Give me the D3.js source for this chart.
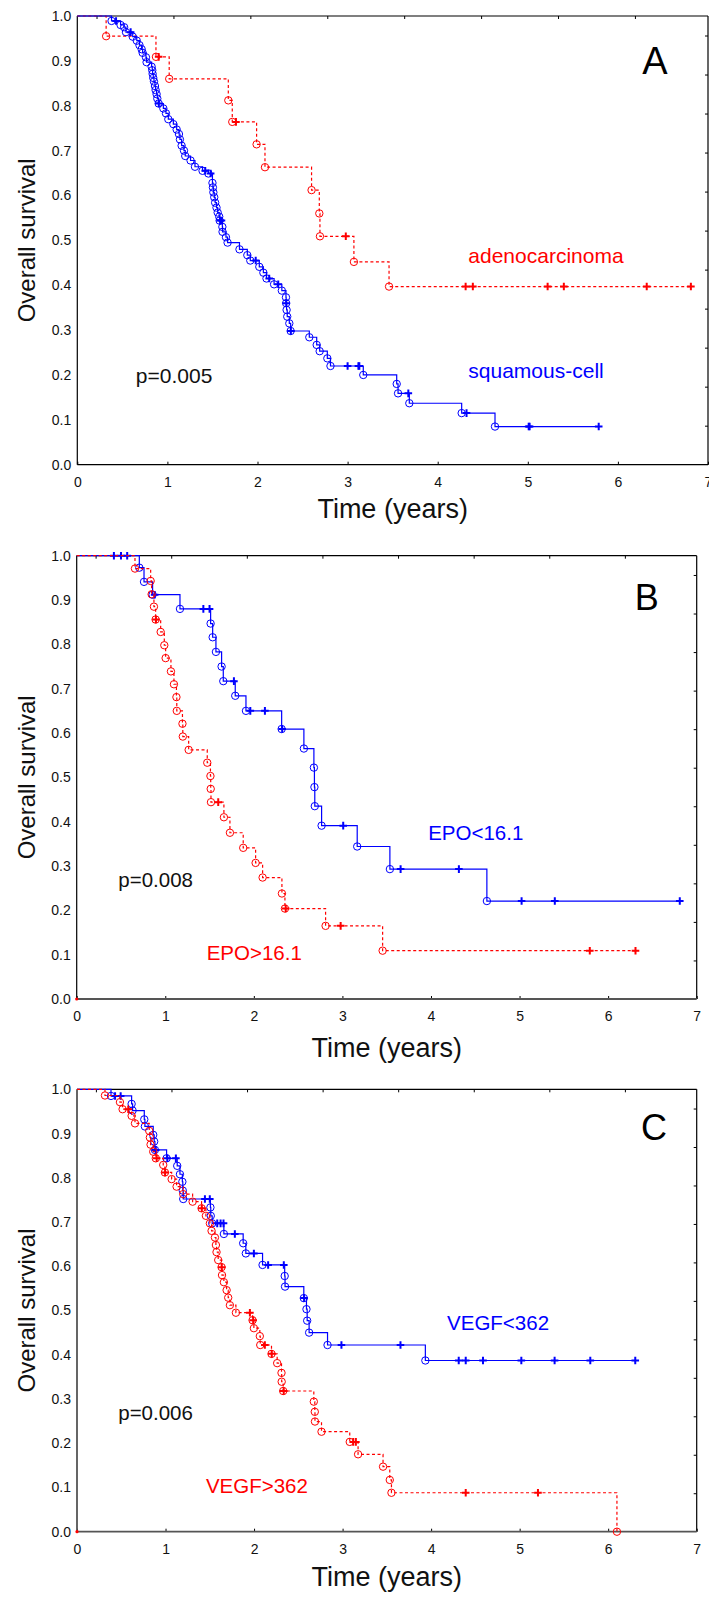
<!DOCTYPE html>
<html>
<head>
<meta charset="utf-8">
<title>Overall survival</title>
<script src="https://cdn.jsdelivr.net/npm/d3@7"></script>
<style>
    body {
        margin: 0;
        background: #fff;
    }
    svg text {
        font-family: 'Liberation Sans', Arial, Helvetica, sans-serif;
    }
</style>
</head>
<body>
<svg id="chart" width="709" height="1597"></svg>

<script>
// ticks
var xTicks = [0, 1, 2, 3, 4, 5, 6, 7];
var yTicks = [0, 0.1, 0.2, 0.3, 0.4, 0.5, 0.6, 0.7, 0.8, 0.9, 1.0];

// A: histology. event times (years) and survival after each event, censored times
var adenoT = [0.32, 0.873, 1.02, 1.676, 1.72, 1.99, 2.083, 2.60, 2.686, 2.693, 3.07, 3.46];
var adenoS = [0.955, 0.909, 0.860, 0.812, 0.764, 0.714, 0.663, 0.612, 0.560, 0.509, 0.452, 0.397];
var adenoCens = [0.903, 1.761, 2.98, 4.31, 4.39, 5.22, 5.40, 6.32, 6.81];

var squamT = [0.38, 0.48, 0.52, 0.54, 0.615, 0.66, 0.69, 0.714, 0.725, 0.762, 0.769, 0.825, 0.832, 0.836, 0.843,
    0.851, 0.862, 0.869, 0.880, 0.888, 0.903, 0.955, 0.984, 1.01, 1.066, 1.103, 1.128, 1.139, 1.158, 1.184,
    1.198, 1.257, 1.306, 1.39, 1.455, 1.50, 1.505, 1.51, 1.52, 1.53, 1.545, 1.558, 1.575, 1.58, 1.61,
    1.612, 1.65, 1.668, 1.80, 1.887, 1.92, 2.02, 2.065, 2.10, 2.184, 2.27, 2.316, 2.318, 2.323, 2.33,
    2.353, 2.368, 2.575, 2.657, 2.69, 2.775, 2.81, 3.174, 3.545, 3.56, 3.685, 4.266, 4.636];
var squamS = [0.989, 0.980, 0.975, 0.964, 0.954, 0.945, 0.935, 0.926, 0.918, 0.908, 0.897, 0.887, 0.879, 0.871, 0.862,
    0.854, 0.844, 0.835, 0.826, 0.816, 0.805, 0.794, 0.783, 0.770, 0.759, 0.747, 0.737, 0.725, 0.711, 0.700,
    0.688, 0.678, 0.664, 0.655, 0.649, 0.628, 0.618, 0.607, 0.596, 0.584, 0.573, 0.562, 0.553, 0.544, 0.530,
    0.519, 0.507, 0.495, 0.480, 0.467, 0.455, 0.441, 0.428, 0.415, 0.402, 0.388, 0.373, 0.360, 0.345, 0.330,
    0.315, 0.298, 0.284, 0.267, 0.253, 0.237, 0.220, 0.200, 0.180, 0.159, 0.137, 0.115, 0.085];
var squamCens = [0.43, 0.592, 0.905, 1.42, 1.48, 1.585, 1.60, 1.98, 2.13, 2.23, 2.319, 2.37, 3.0, 3.12, 3.13,
    3.674, 4.32, 5.01, 5.02, 5.787];

// B: EPO
var epoLowT = [0.707, 0.76, 0.857, 1.166, 1.512, 1.535, 1.572, 1.636, 1.655, 1.79, 1.911, 2.314, 2.565, 2.678,
    2.684, 2.688, 2.765, 3.167, 3.536, 4.631];
var epoLowS = [0.973, 0.941, 0.912, 0.880, 0.847, 0.816, 0.783, 0.750, 0.717, 0.684, 0.650, 0.609, 0.565, 0.522,
    0.478, 0.435, 0.391, 0.344, 0.293, 0.221];
var epoLowCens = [0.42, 0.50, 0.57, 0.88, 1.43, 1.50, 1.775, 1.96, 2.125, 2.32, 3.009, 3.657, 4.315, 5.023, 5.398, 6.809];

var epoHighT = [0.658, 0.835, 0.846, 0.872, 0.891, 0.948, 0.989, 1.004, 1.064, 1.098, 1.126, 1.13, 1.194, 1.198,
    1.264, 1.474, 1.510, 1.513, 1.516, 1.662, 1.730, 1.88, 2.02, 2.099, 2.317, 2.351, 2.81, 3.454];
var epoHighS = [0.971, 0.943, 0.913, 0.885, 0.856, 0.828, 0.798, 0.769, 0.739, 0.710, 0.681, 0.650, 0.621, 0.592,
    0.562, 0.533, 0.503, 0.474, 0.444, 0.410, 0.375, 0.341, 0.307, 0.274, 0.238, 0.204, 0.165, 0.109];
var epoHighCens = [0.895, 1.598, 2.36, 2.98, 5.793, 6.309];

// C: VEGF
var vegfLowT = [0.384, 0.617, 0.628, 0.76, 0.767, 0.861, 0.872, 0.88, 1.012, 1.132, 1.163, 1.19, 1.195, 1.2, 1.507,
    1.511, 1.527, 1.659, 1.877, 1.907, 2.096, 2.346, 2.35, 2.562, 2.592, 2.6, 2.622, 2.83, 3.935];
var vegfLowS = [0.985, 0.967, 0.952, 0.932, 0.916, 0.897, 0.882, 0.863, 0.844, 0.827, 0.808, 0.791, 0.771, 0.752, 0.733,
    0.714, 0.697, 0.673, 0.652, 0.629, 0.603, 0.578, 0.554, 0.528, 0.503, 0.477, 0.450, 0.422, 0.387];
var vegfLowCens = [0.43, 0.493, 0.89, 1.02, 1.117, 1.445, 1.50, 1.584, 1.622, 1.655, 1.783, 1.998, 2.159, 2.336,
    2.565, 2.987, 3.654, 4.312, 4.391, 4.586, 5.019, 5.395, 5.798, 6.306];

var vegfHighT = [0.316, 0.485, 0.515, 0.617, 0.655, 0.816, 0.823, 0.831, 0.861, 0.89, 0.974, 0.993, 1.069, 1.125, 1.2,
    1.306, 1.407, 1.456, 1.501, 1.52, 1.558, 1.569, 1.576, 1.595, 1.633, 1.638, 1.659, 1.69, 1.708, 1.727,
    1.795, 1.983, 1.998, 2.065, 2.07, 2.197, 2.261, 2.31, 2.312, 2.329, 2.675, 2.686, 2.688, 2.762, 3.081,
    3.175, 3.457, 3.533, 3.552, 6.099];
var vegfHighS = [0.986, 0.971, 0.955, 0.940, 0.923, 0.906, 0.891, 0.875, 0.859, 0.844, 0.829, 0.812, 0.797, 0.780, 0.763,
    0.746, 0.731, 0.714, 0.697, 0.680, 0.665, 0.648, 0.632, 0.614, 0.598, 0.580, 0.564, 0.546, 0.529, 0.512,
    0.495, 0.478, 0.460, 0.442, 0.422, 0.402, 0.381, 0.359, 0.339, 0.318, 0.294, 0.271, 0.249, 0.226, 0.203,
    0.175, 0.147, 0.117, 0.088, 0.0];
var vegfHighCens = [0.579, 0.90, 0.995, 1.41, 1.635, 1.953, 1.99, 2.122, 2.2, 2.335, 3.12, 3.15, 4.391, 5.207];

// small red mark sitting on the origin in B and C
var originMark = [[0, 0]];

var BLUE = "#0000ff", RED = "#ff0000";

var panels = [
    {
        letter: "A", left: 77.3, right: 708, top: 16, bottom: 464.7,
        pText: "p=0.005", pAt: [0.65, 0.181], fs: 21, letterAt: [6.27, 0.871], letterFs: 38,
        series: [
            {t: adenoT, s: adenoS, c: adenoCens, color: RED, dashed: true, name: "adenocarcinoma", at: [4.34, 0.449]},
            {t: squamT, s: squamS, c: squamCens, color: BLUE, dashed: false, name: "squamous-cell", at: [4.34, 0.193]}
        ],
        origin: false, bottomColor: "#000", leftColor: "#000", xTitleY: 518
    },
    {
        letter: "B", left: 76.7, right: 696.7, top: 555.7, bottom: 999,
        pText: "p=0.008", pAt: [0.47, 0.252], fs: 20.5, letterAt: [6.30, 0.877], letterFs: 36,
        series: [
            {t: epoLowT, s: epoLowS, c: epoLowCens, color: BLUE, dashed: false, name: "EPO<16.1", at: [3.968, 0.359]},
            {t: epoHighT, s: epoHighS, c: epoHighCens, color: RED, dashed: true, name: "EPO>16.1", at: [1.467, 0.088]}
        ],
        origin: true, bottomColor: "#555", leftColor: "#000", xTitleY: 1057
    },
    {
        letter: "C", left: 77, right: 696.7, top: 1089.3, bottom: 1531.7,
        pText: "p=0.006", pAt: [0.466, 0.252], fs: 20.5, letterAt: [6.37, 0.885], letterFs: 36,
        series: [
            {t: vegfLowT, s: vegfLowS, c: vegfLowCens, color: BLUE, dashed: false, name: "VEGF<362", at: [4.18, 0.456]},
            {t: vegfHighT, s: vegfHighS, c: vegfHighCens, color: RED, dashed: true, name: "VEGF>362", at: [1.456, 0.088]}
        ],
        origin: true, bottomColor: "#555", leftColor: "#555", xTitleY: 1586
    }
];

var svg = d3.select("#chart");

// survival value of the step curve at time t
function survAt(times, surv, t) {
    var s = 1;
    for (var i = 0; i < times.length; i++) {
        if (times[i] <= t) s = surv[i];
    }
    return s;
}

function drawPanel(p) {
    var x = d3.scaleLinear().domain([0, 7]).range([p.left, p.right]);
    var y = d3.scaleLinear().domain([0, 1]).range([p.bottom, p.top]);
    // the frame's top and right ticks follow their own spacing in the figure
    var xFrame = d3.scaleLinear().domain([-0.25, 7.95]).range([p.left, p.right]);
    var yFrame = d3.scaleLinear().domain([0, 1.15]).range([p.bottom, p.top]);

    var g = svg.append("g");

    // bottom axis
    g.append("g")
        .attr("transform", "translate(0," + p.bottom + ")")
        .call(d3.axisBottom(x).tickValues(xTicks).tickSizeInner(-3).tickSizeOuter(0).tickPadding(12)
            .tickFormat(d3.format("d")))
        .call(function(a) {
            a.select(".domain").remove();
            a.selectAll("text").style("font-size", "14px").attr("fill", "#111");
            a.selectAll("line").attr("stroke", "#000");
        });

    // left axis
    g.append("g")
        .attr("transform", "translate(" + p.left + ",0)")
        .call(d3.axisLeft(y).tickValues(yTicks).tickSize(0).tickPadding(6).tickFormat(d3.format(".1f")))
        .call(function(a) {
            a.select(".domain").remove();
            a.selectAll("text").style("font-size", "14px").attr("fill", "#111");
        });

    // top axis (ticks only)
    g.append("g")
        .attr("transform", "translate(0," + p.top + ")")
        .call(d3.axisTop(xFrame).tickValues(d3.range(0, 8)).tickSizeInner(-3).tickSizeOuter(0).tickFormat(""))
        .call(function(a) { a.select(".domain").remove(); });

    // right axis (ticks only)
    g.append("g")
        .attr("transform", "translate(" + p.right + ",0)")
        .call(d3.axisRight(yFrame).tickValues(d3.range(1, 12).map(function(k) { return k / 10; }))
            .tickSizeInner(-3).tickSizeOuter(0).tickFormat(""))
        .call(function(a) { a.select(".domain").remove(); });

    // frame
    g.append("line").attr("x1", p.left).attr("x2", p.right).attr("y1", p.top).attr("y2", p.top)
        .attr("stroke", "#000").attr("stroke-width", 1.2);
    g.append("line").attr("x1", p.right).attr("x2", p.right).attr("y1", p.top).attr("y2", p.bottom)
        .attr("stroke", "#000").attr("stroke-width", 1.2);
    g.append("line").attr("x1", p.left).attr("x2", p.right).attr("y1", p.bottom).attr("y2", p.bottom)
        .attr("stroke", p.bottomColor).attr("stroke-width", p.bottomColor === "#000" ? 1.2 : 1.8);
    g.append("line").attr("x1", p.left).attr("x2", p.left).attr("y1", p.top).attr("y2", p.bottom)
        .attr("stroke", p.leftColor).attr("stroke-width", p.leftColor === "#000" ? 1.2 : 1.8);

    var line = d3.line()
        .x(function(d) { return x(d[0]); })
        .y(function(d) { return y(d[1]); })
        .curve(d3.curveStepAfter);

    p.series.forEach(function(sr) {
        var pts = [[0, 1]];
        sr.t.forEach(function(t, i) { pts.push([t, sr.s[i]]); });
        var lastC = d3.max(sr.c);
        var lastT = d3.max(sr.t);
        if (lastC > lastT) pts.push([lastC, sr.s[sr.s.length - 1]]);

        g.append("path")
            .datum(pts)
            .attr("d", line)
            .attr("fill", "none")
            .attr("stroke", sr.color)
            .attr("stroke-width", 1.2)
            .attr("stroke-dasharray", sr.dashed ? "3,2.5" : null);

        // events
        g.selectAll(null)
            .data(sr.t.map(function(t, i) { return [t, sr.s[i]]; }))
            .enter().append("circle")
            .attr("cx", function(d) { return x(d[0]); })
            .attr("cy", function(d) { return y(d[1]); })
            .attr("r", 3.7)
            .attr("fill", "none")
            .attr("stroke", sr.color)
            .attr("stroke-width", 1);

        // censored
        g.selectAll(null)
            .data(sr.c.map(function(t) { return [t, survAt(sr.t, sr.s, t)]; }))
            .enter().append("path")
            .attr("transform", function(d) { return "translate(" + x(d[0]) + "," + y(d[1]) + ")"; })
            .attr("d", "M-3.8,0H3.8M0,-3.8V3.8")
            .attr("stroke", sr.color)
            .attr("stroke-width", 2)
            .attr("fill", "none");

        g.append("text")
            .attr("x", x(sr.at[0]))
            .attr("y", y(sr.at[1]))
            .style("font-size", p.fs + "px")
            .attr("fill", sr.color)
            .text(sr.name);
    });

    if (p.origin) {
        g.selectAll(null)
            .data(originMark)
            .enter().append("circle")
            .attr("cx", function(d) { return x(d[0]); })
            .attr("cy", function(d) { return y(d[1]); })
            .attr("r", 1.6)
            .attr("fill", RED);
    }

    g.append("text")
        .attr("x", x(p.pAt[0]))
        .attr("y", y(p.pAt[1]))
        .style("font-size", p.fs + "px")
        .attr("fill", "#111")
        .text(p.pText);

    g.append("text")
        .attr("x", x(p.letterAt[0]))
        .attr("y", y(p.letterAt[1]))
        .style("font-size", p.letterFs + "px")
        .attr("fill", "#000")
        .text(p.letter);

    // axis titles
    g.append("text")
        .attr("x", (p.left + p.right) / 2)
        .attr("y", p.xTitleY)
        .attr("text-anchor", "middle")
        .style("font-size", "27px")
        .attr("fill", "#111")
        .text("Time (years)");

    g.append("text")
        .attr("transform", "translate(35," + (p.top + p.bottom) / 2 + ") rotate(-90)")
        .attr("text-anchor", "middle")
        .style("font-size", "24px")
        .attr("fill", "#111")
        .text("Overall survival");
}

panels.forEach(drawPanel);
</script>
</body>
</html>
